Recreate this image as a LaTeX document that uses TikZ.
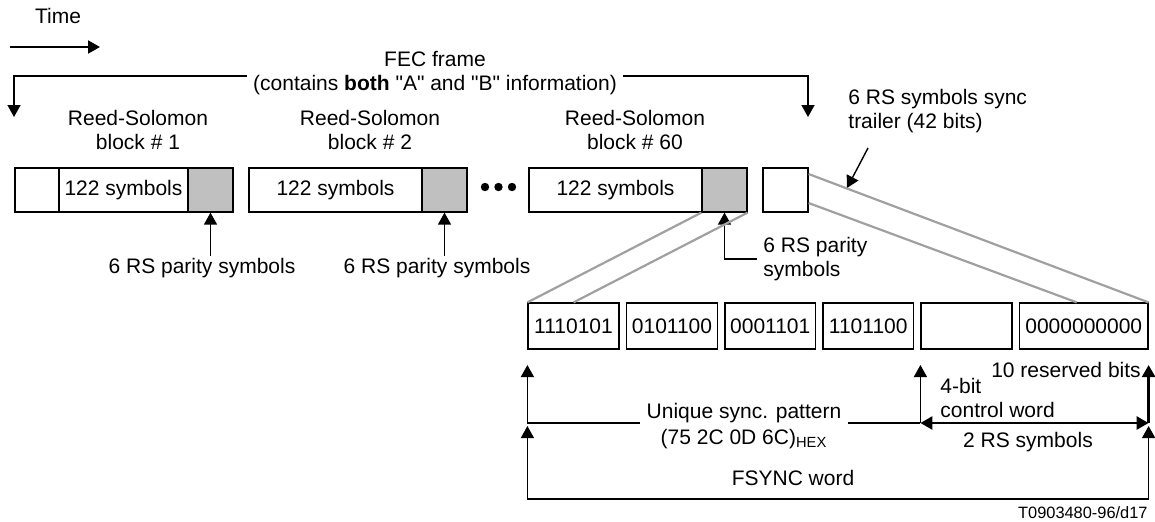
\documentclass[tikz,border=0pt]{standalone}
\usepackage{fontspec}
\setmainfont{Liberation Sans}
\newfontfamily\qfont{Liberation Sans}[Ligatures=TeXOff]
\usetikzlibrary{arrows.meta,calc}
\definecolor{boxgray}{RGB}{192,192,192}
\definecolor{linegray}{RGB}{160,160,160}
\newcommand{\sq}{{\qfont\symbol{34}}}
\begin{document}
\begin{tikzpicture}[x=0.5pt,y=-0.5pt,
  font=\fontsize{10.5}{12}\selectfont,
  tip/.style={-{Triangle[length=6pt,width=6.5pt]}},
  tips/.style={{Triangle[length=6pt,width=6.5pt]}-{Triangle[length=6pt,width=6.5pt]}},
  thinln/.style={line width=0.7pt},
  thickln/.style={line width=1.3pt},
  gl/.style={draw=linegray, line width=1.1pt},
  box/.style={draw, line width=0.6pt, inner sep=0pt, minimum height=22pt},
  sbox/.style={box, minimum height=23pt},
  dot/.style={circle, fill=black, inner sep=0pt, minimum size=4.2pt}
]
\useasboundingbox (0,0) rectangle (1155,521);

% time
\node (time) at (58,16) {Time};
\coordinate (tA) at (10,47);
\coordinate (tB) at (100,47);
\draw[line width=1pt,tip] (tA) -- (tB);

% FEC frame
\node[align=center, inner sep=3pt] (fec) at (435,73) {FEC frame\\(contains \textbf{both} \sq A\sq{} and \sq B\sq{} information)};
\coordinate (yF) at (0,76);
\coordinate (fL) at (14,117);
\coordinate (fR) at (808,117);
\draw[thinln,tip] (fec.west |- yF) -| (fL);
\draw[thinln,tip] (fec.east |- yF) -| (fR);

% block labels
\node[align=center, inner sep=1pt] (rs1) at (138,130) {Reed-Solomon\\block \# 1};
\node[align=center, inner sep=1pt] (rs2) at (370,130) {Reed-Solomon\\block \# 2};
\node[align=center, inner sep=1pt] (rs60) at (635,130) {Reed-Solomon\\block \# 60};
\node[align=left, anchor=west, inner sep=0pt] (trl) at (848,111) {6 RS symbols sync\\trailer (42 bits)};

% top row
\node[box, minimum width=22pt] (a1) at (37,190) {};
\node[box, minimum width=64.5pt] (t1) at (123.5,190) {122 symbols};
\node[box, fill=boxgray, minimum width=22.5pt] (g1) at (210.5,190) {};
\node[box, minimum width=86.5pt] (t2) at (335.5,190) {122 symbols};
\node[box, fill=boxgray, minimum width=22.5pt] (g2) at (444.5,190) {};
\node[dot] (d1) at (485,187) {};
\node[dot] (d2) at (498.5,187) {};
\node[dot] (d3) at (512,187) {};
\node[box, minimum width=86.5pt] (t60) at (615.5,190) {122 symbols};
\node[box, fill=boxgray, minimum width=22.5pt] (g60) at (724.5,190) {};
\node[box, minimum width=22.5pt] (tr) at (785.5,190) {};

% trailer arrow
\coordinate (trA) at (868,148);
\coordinate (trB) at (847,188);
\draw[thinln,tip] (trA) -- (trB);

% parity labels
\node[inner sep=1pt] (p1) at (202,268) {6 RS parity symbols};
\node[inner sep=1pt] (p2) at (437,268) {6 RS parity symbols};
\draw[thinln,tip] (g1.south |- p1.north) -- (g1.south);
\draw[thinln,tip] (g2.south |- p2.north) -- (g2.south);
\node[align=left, anchor=west, inner sep=3pt] (p60) at (757,259) {6 RS parity\\symbols};
\draw[thinln,tip] (p60.west) -| (g60.south);

% lower row
\node[sbox, minimum width=45.5pt] (s1) at (573.5,326) {1110101};
\node[sbox, minimum width=45.5pt] (s2) at (672,326) {0101100};
\node[sbox, minimum width=45.25pt] (s3) at (770.25,326) {0001101};
\node[sbox, minimum width=45.25pt] (s4) at (868.25,326) {1101100};
\node[sbox, minimum width=45.5pt] (s5) at (966.5,326) {};
\node[sbox, minimum width=64.25pt] (s6) at (1083.75,326) {0000000000};

% gray expansion lines
\draw[gl] (g60.south west) -- (s1.north west);
\draw[gl] (g60.south east) -- (s1.north);
\draw[gl] ([yshift=8pt]tr.east) -- (s6.north east);
\draw[gl] ([yshift=-6.5pt]tr.east) -- ([xshift=-3.5pt]s6.north);

% lower labels
\node[inner sep=0pt] (rsv) at (1066,370) {10 reserved bits};
\node[align=left, anchor=west, inner sep=0pt] (cw) at (940,398) {4-bit\\control word};
\node[align=center, inner sep=3pt] (usp) at (744,426) {Unique sync. pattern\\[1pt](75 2C 0D 6C)\textsubscript{HEX}};
\node[inner sep=0pt] (rss) at (1028,442) {2 RS symbols};
\node[inner sep=0pt] (fs) at (793,478) {FSYNC word};
\node[anchor=east, inner sep=0pt, font=\fontsize{8.2}{10}\selectfont] (tag) at (1148,513) {T0903480-96/d17};

% lower brackets
\coordinate (yU) at (0,365);
\coordinate (yM) at (0,423);
\coordinate (yF2) at (0,426);
\coordinate (yB) at (0,499);
\draw[thinln,tip] (s1.west |- yM) -- (s1.west |- yU);
\draw[thinln] (s1.west |- yM) -- (usp.west |- yM);
\draw[thinln] (usp.east |- yM) -- (s5.west |- yM);
\draw[thinln,tip] (s5.west |- yM) -- (s5.west |- yU);
\draw[thickln,tips] (s5.west |- yM) -- (s6.east |- yM);
\draw[thickln,tip] (s6.east |- yM) -- (s6.east |- yU);
\draw[thinln,tips] (s1.west |- yF2) -- (s1.west |- yB) -- (s6.east |- yB) -- (s6.east |- yF2);
\end{tikzpicture}
\end{document}
